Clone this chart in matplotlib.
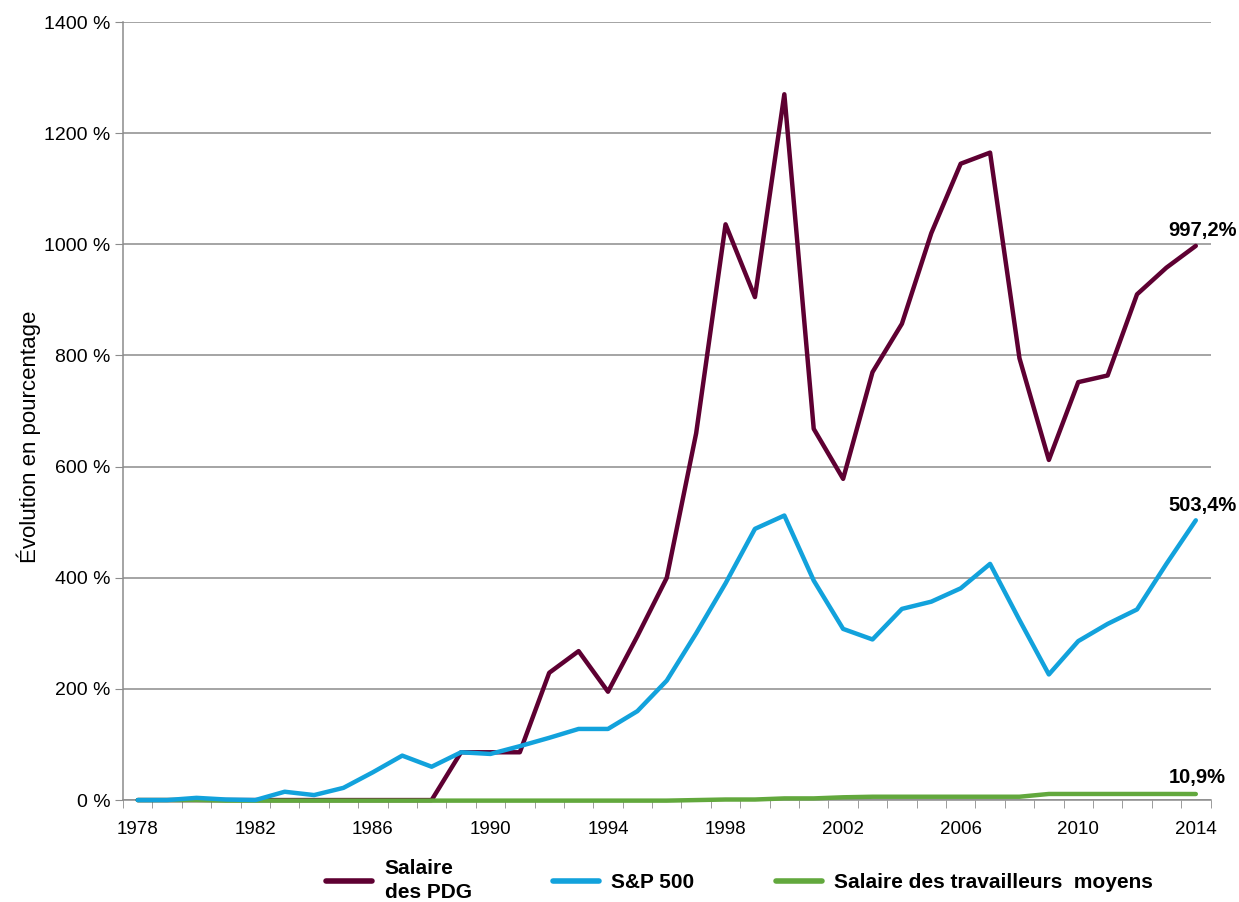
import numpy as np
import matplotlib.pyplot as plt
from matplotlib.lines import Line2D

# donnees
annees = list(range(1978, 2015))
pdg = [0, 0, 0, 0, 0, 0, 0, 0, 0, 0, 0, 86, 86, 86, 229, 268, 195, 295, 400, 660,
       1036, 905, 1270, 668, 578, 770, 857, 1020, 1145, 1165, 795, 612, 752, 764,
       910, 958, 997.2]
sp500 = [0, 0, 4, 1, 0, 15, 9, 22, 50, 80, 60, 86, 83, 97, 112, 128, 128, 160, 215, 300,
         390, 488, 512, 395, 308, 289, 344, 357, 381, 425, 324, 226, 286, 317,
         343, 425, 503.4]
travailleurs = [0, 0, 0, -1, -1, -1, -1, -1, -1, -1, -1, -1, -1, -1, -1, -1, -1, -1, -1, 0,
                1, 1, 3, 3, 5, 6, 6, 6, 6, 6, 6, 11, 11, 11, 11, 11, 10.9]
etiquettes_fin = ["997,2%", "503,4%", "10,9%"]
legende = ["Salaire\ndes PDG", "S&P 500", "Salaire des travailleurs  moyens"]

c_pdg = "#5e0032"
c_sp = "#12a2dc"
c_trav = "#62a83d"
gris = "#8c8c8c"

plt.rcParams['font.family'] = ['Liberation Sans', 'DejaVu Sans']

fig = plt.figure(figsize=(12.39, 9.02), dpi=100)
ax = fig.add_axes([0.0993, 0.113, 0.8777, 0.8626])

ax.plot(annees, pdg, color=c_pdg, lw=3.2, zorder=3, solid_capstyle='round', clip_on=False)
ax.plot(annees, travailleurs, color=c_trav, lw=3.2, zorder=4, solid_capstyle='round', clip_on=False)
ax.plot(annees, sp500, color=c_sp, lw=3.2, zorder=5, solid_capstyle='round', clip_on=False)

# etiquettes de fin de serie
for serie, txt, dx, dy in zip([pdg, sp500, travailleurs], etiquettes_fin, [5, 5, 1], [4, 4, 5]):
    ax.annotate(txt, (annees[-1], serie[-1]), xytext=(dx, dy), textcoords='offset points',
                ha='center', va='bottom', fontsize=14.5, fontweight='bold', color='black')

ax.set_xlim(1977.5, 2014.5)
ax.set_ylim(0, 1400)
ax.set_yticks(np.arange(0, 1401, 200))
ax.set_yticklabels([f"{v} %" for v in range(0, 1401, 200)])
ax.set_xticks(range(1978, 2015, 4))
ax.set_xticks(np.arange(1977.5, 2015, 1), minor=True)
ax.tick_params(axis='x', which='major', length=0, labelsize=13.5, pad=15)
ax.tick_params(axis='x', which='minor', length=6, color=gris, direction='out')
ax.tick_params(axis='y', length=6, color=gris, labelsize=14, pad=3)

ax.grid(axis='y', color=gris, lw=1.1, zorder=1)
ax.set_axisbelow(True)
for s in ['top', 'right']:
    ax.spines[s].set_visible(False)
for s in ['left', 'bottom']:
    ax.spines[s].set_color(gris)
    ax.spines[s].set_linewidth(1.1)

ax.set_ylabel("Évolution en pourcentage", fontsize=16)
ax.yaxis.set_label_coords(-0.075, 0.467)

# legende en bas
handles = [Line2D([], [], color=c, lw=4, solid_capstyle='round') for c in [c_pdg, c_sp, c_trav]]
leg = fig.legend(handles, legende, loc='center', bbox_to_anchor=(0.597, 0.024), ncol=3,
                 frameon=False, handlelength=2.2, handletextpad=0.6, columnspacing=3.9,
                 prop={'weight': 'bold', 'size': 15})
for t in leg.get_texts():
    t.set_linespacing(1.3)

fig.savefig("out.png", dpi=100)
